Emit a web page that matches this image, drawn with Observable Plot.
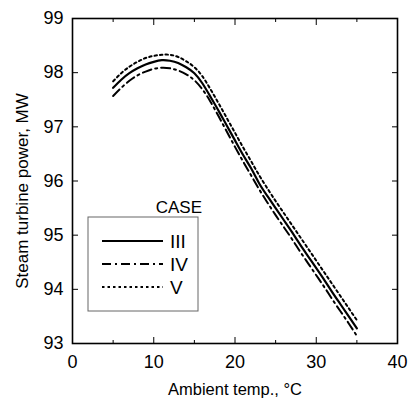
<!DOCTYPE html>
<html><head><meta charset="utf-8">
<script src="https://cdn.jsdelivr.net/npm/d3@7"></script>
<script src="https://cdn.jsdelivr.net/npm/@observablehq/plot@0.6"></script>
<style>
body{margin:0;background:#fff;}
#wrap{position:relative;width:411px;height:398px;}
</style></head><body><div id="wrap"></div>
<script>
const temps = [5,6,7,8,9,10,11,12,13,14,15,16,17,18,19,20,21,22,23,24,25,26,27,28,29,30,31,32,33,34,35];
const caseIII = [97.72,97.87,97.99,98.08,98.15,98.20,98.23,98.22,98.18,98.10,97.99,97.80,97.55,97.29,97.02,96.75,96.48,96.23,95.95,95.72,95.50,95.28,95.06,94.83,94.61,94.39,94.17,93.94,93.72,93.50,93.28];
const caseIV = [97.57,97.72,97.85,97.95,98.02,98.07,98.09,98.08,98.04,97.97,97.86,97.69,97.46,97.19,96.91,96.63,96.36,96.10,95.84,95.60,95.37,95.15,94.93,94.70,94.48,94.26,94.04,93.81,93.59,93.37,93.14];
const caseV = [97.84,97.99,98.11,98.20,98.27,98.31,98.33,98.33,98.29,98.21,98.10,97.93,97.69,97.43,97.16,96.89,96.62,96.36,96.10,95.86,95.63,95.41,95.19,94.97,94.75,94.53,94.31,94.09,93.87,93.65,93.43];
const caseNames = ["III","IV","V"];
const xTicks = [0,10,20,30,40];
const xMinor = [5,15,25,35];
const yTicks = [93,94,95,96,97,98,99];
const xLabel = "Ambient temp., °C";
const yLabel = "Steam turbine power, MW";
const legendTitle = "CASE";

const rows = (vals) => temps.map((t,i)=>({t, p: vals[i]}));
const dashes = {III: null, IV: "9,4,2,4", V: "2.5,3"};
const seriesVals = {III: caseIII, IV: caseIV, V: caseV};

const font = "'Liberation Sans', Arial, Helvetica, sans-serif";
const plot = Plot.plot({
  width: 411, height: 398,
  marginLeft: 72, marginRight: 14, marginTop: 18, marginBottom: 55,
  style: {fontFamily: font, fontSize: "16px", color: "black", background: "white"},
  x: {domain: [0, 40]},
  y: {domain: [93, 99]},
  marks: [
    Plot.axisX(xTicks, {anchor: "bottom", tickSize: -6, tickPadding: 18, label: null, fontSize: 18, tickFormat: d3.format("d")}),
    Plot.axisX(xMinor, {anchor: "bottom", tickSize: -3, tickFormat: () => "", label: null}),
    Plot.axisX(xTicks, {anchor: "top", tickSize: -6, tickFormat: () => "", label: null}),
    Plot.axisX(xMinor, {anchor: "top", tickSize: -3, tickFormat: () => "", label: null}),
    Plot.axisY(yTicks, {anchor: "left", tickSize: -6, tickPadding: 15, label: null, fontSize: 18, tickFormat: d3.format("d")}),
    Plot.axisY(yTicks, {anchor: "right", tickSize: -6, tickFormat: () => "", label: null}),
    ...caseNames.map(c => Plot.line(rows(seriesVals[c]), {
      x: "t", y: "p", curve: "natural", stroke: "black",
      strokeWidth: c === "III" ? 2.2 : 2, strokeDasharray: dashes[c]
    })),
    Plot.frame({stroke: "black", strokeWidth: 1.6}),
    Plot.text([xLabel], {frameAnchor: "bottom", dy: 46, text: d => d, fontSize: 16.5, lineAnchor: "middle", textAnchor: "middle"}),
    Plot.text([yLabel], {frameAnchor: "left", dx: -50, dy: 10, rotate: -90, text: d => d, fontSize: 17, lineAnchor: "middle", textAnchor: "middle"})
  ]
});
document.getElementById("wrap").appendChild(plot);

// Legend box inside the plot area
const svg = d3.select(plot);
const g = svg.append("g").attr("font-family", font).attr("text-anchor", "start");
g.append("rect").attr("x", 88).attr("y", 217).attr("width", 110).attr("height", 94)
  .attr("fill", "white").attr("stroke", "#666").attr("stroke-width", 1);
g.append("text").attr("x", 202).attr("y", 213).attr("text-anchor", "end")
  .attr("font-size", 17).text(legendTitle);
caseNames.forEach((c, i) => {
  const yy = 241 + i * 23;
  g.append("line").attr("x1", 102).attr("x2", 163).attr("y1", yy).attr("y2", yy)
    .attr("stroke", "black").attr("stroke-width", 2)
    .attr("stroke-dasharray", dashes[c]);
  g.append("text").attr("x", 170).attr("y", yy).attr("dy", "0.36em")
    .attr("font-size", 19).text(c);
});
</script>
</body></html>
